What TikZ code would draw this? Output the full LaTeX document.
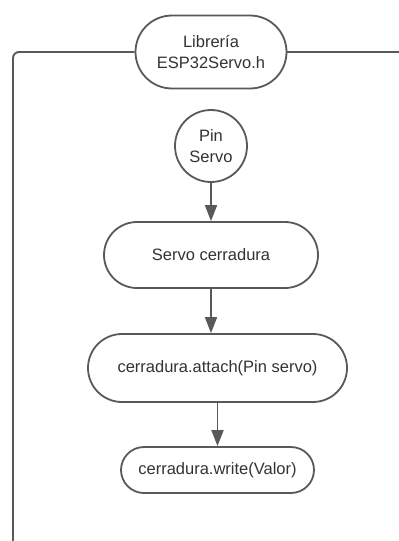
\documentclass[tikz,border=0pt]{standalone}
\usepackage{fontspec}
\setmainfont{Liberation Sans}
\usetikzlibrary{shapes.misc,arrows.meta}
\definecolor{edge}{HTML}{595959}
\definecolor{ink}{HTML}{333333}
\begin{document}
\begin{tikzpicture}[x=1pt,y=-1pt,
  flow/.style={draw=edge, line width=1.8pt, rounded rectangle, fill=white,
    text=ink, align=center, inner sep=0pt, font=\fontsize{16.5}{21}\selectfont},
  pin/.style={draw=edge, line width=1.8pt, circle, fill=white, minimum size=72pt,
    text=ink, align=center, inner sep=0pt, font=\fontsize{16.5}{21}\selectfont},
  link/.style={draw=edge, line width=1.9pt},
  conn/.style={link, -{Triangle[length=16pt,width=12pt]}}]
\useasboundingbox (0,0) rectangle (399,541);

% nodes
\node[flow, minimum width=151pt, minimum height=73pt] (lib) at (211,52) {Librería\\ESP32Servo.h};
\node[pin] (pinsv) at (211,146) {Pin\\Servo};
\node[flow, minimum width=214pt, minimum height=66pt] (serv) at (211,255) {Servo cerradura};
\node[flow, minimum width=259pt, minimum height=68pt] (att) at (217.5,368) {cerradura.attach(Pin servo)};
\node[flow, minimum width=193pt, minimum height=46pt] (wr) at (217.5,470) {cerradura.write(Valor)};

% free ends of the library lines
\coordinate (leftend) at (13,542);
\coordinate (rightend) at (400,52);

% connectors
\draw[link, rounded corners=6pt] (lib.west) -| (leftend);
\draw[link] (lib.east) -- (rightend);
\draw[conn] (pinsv.south) -- (serv.north);
\draw[conn] (serv.south) -- (serv.south |- att.north);
\draw[conn] (att.south) -- (wr.north);
\end{tikzpicture}
\end{document}
